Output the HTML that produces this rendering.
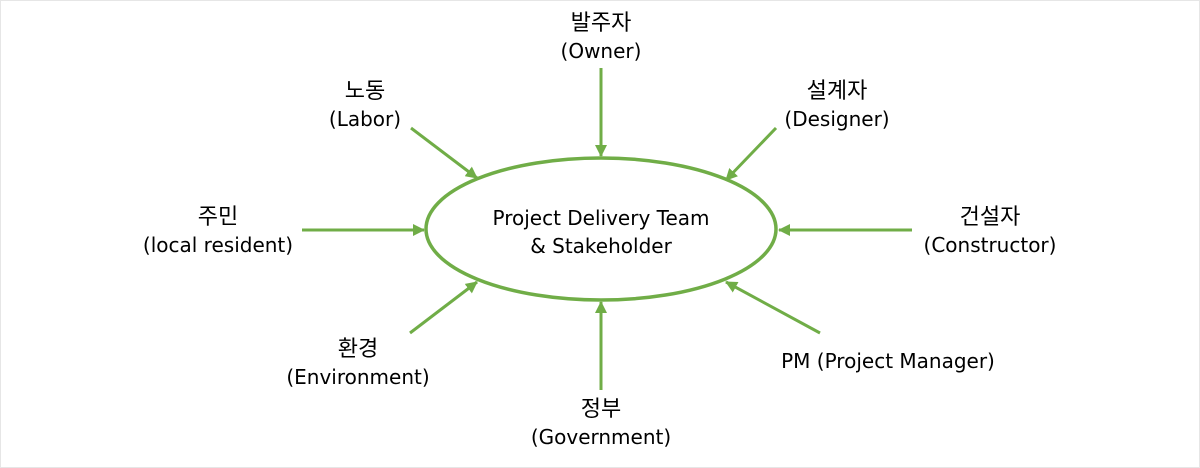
<!DOCTYPE html>
<html><head><meta charset="utf-8"><style>
html,body{margin:0;padding:0;background:#fff}
svg{display:block}
text{font-family:"DejaVu Sans","Noto Sans CJK KR",sans-serif;font-size:20px;fill:#000}
text.k{font-size:22px}
</style></head><body>
<svg width="1200" height="468" viewBox="0 0 1200 468">
<rect x="0.5" y="0.5" width="1199" height="467" fill="#fff" stroke="#e6e6e6"/>
<defs><marker id="a" markerWidth="13" markerHeight="12" refX="11" refY="6" orient="auto" markerUnits="userSpaceOnUse"><path d="M0,0 L12,6 L0,12 z" fill="#70ad47"/></marker></defs>
<ellipse cx="601" cy="229" rx="175" ry="71" fill="none" stroke="#70ad47" stroke-width="3.5"/>
<g stroke="#70ad47" stroke-width="3" marker-end="url(#a)">
<line x1="601" y1="68" x2="601" y2="156"/>
<line x1="302" y1="230" x2="424" y2="230"/>
<line x1="912" y1="230" x2="779" y2="230"/>
<line x1="601" y1="390" x2="601" y2="302"/>
<line x1="411" y1="128" x2="477" y2="178"/>
<line x1="776" y1="128" x2="726" y2="180"/>
<line x1="410" y1="333" x2="477" y2="282"/>
<line x1="820" y1="333" x2="726" y2="282"/>
</g>
<g text-anchor="middle">
<text x="601" y="225">Project Delivery Team</text>
<text x="601" y="253">&amp; Stakeholder</text>
<text class="k" x="601" y="30">발주자</text><text x="601" y="58">(Owner)</text>
<text class="k" x="365" y="98">노동</text><text x="365" y="126">(Labor)</text>
<text class="k" x="837" y="98">설계자</text><text x="837" y="126">(Designer)</text>
<text class="k" x="218" y="224">주민</text><text x="218" y="252">(local resident)</text>
<text class="k" x="990" y="224">건설자</text><text x="990" y="252">(Constructor)</text>
<text class="k" x="358" y="356">환경</text><text x="358" y="384">(Environment)</text>
<text x="888" y="368">PM (Project Manager)</text>
<text class="k" x="601" y="416">정부</text><text x="601" y="444">(Government)</text>
</g>
</svg>
</body></html>
